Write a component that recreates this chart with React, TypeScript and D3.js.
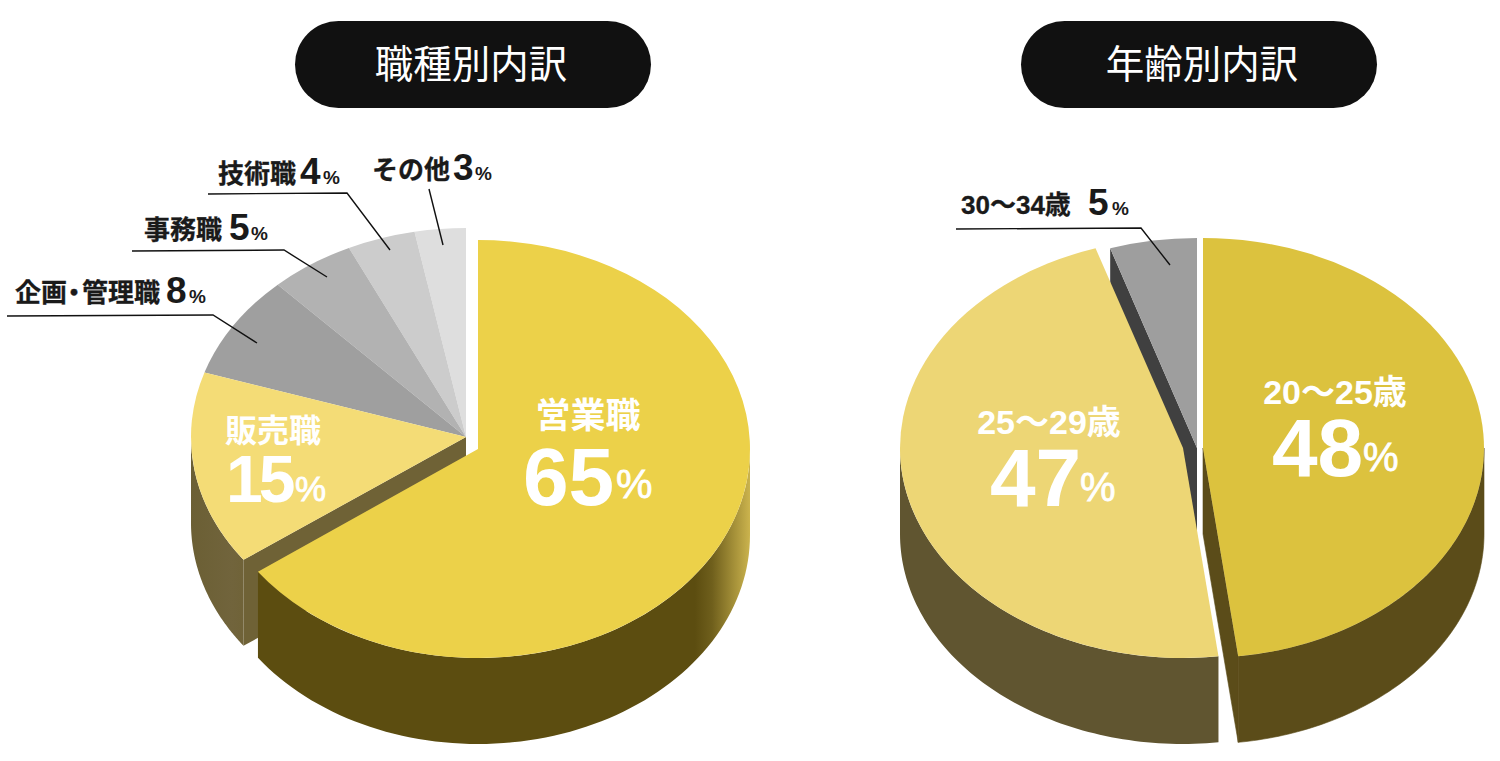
import React from "react";
import * as d3 from "d3";

const jobCategories = ["営業職", "販売職", "企画・管理職", "事務職", "技術職", "その他"];
const jobValues = [65, 15, 8, 5, 4, 3];
const ageCategories = ["20〜25歳", "25〜29歳", "30〜34歳"];
const ageValues = [48, 47, 5];
const titles = ["職種別内訳", "年齢別内訳"];

const JP = "'Noto Sans CJK JP','Noto Sans',sans-serif";
const LAT = "'Liberation Sans',Arial,sans-serif";
const DEPTH = 86;

type Geo = { cx: number; cy: number; rx: number; ry: number; top: string; wall?: string; cut?: string };

const jobGeo: Geo[] = [
  { cx: 478, cy: 449, rx: 272, ry: 209, top: "#ecd149", wall: "url(#wallA)" },
  { cx: 466, cy: 437, rx: 275, ry: 209, top: "#f4dc76", wall: "url(#wallB)", cut: "#6f6236" },
  { cx: 466, cy: 437, rx: 275, ry: 209, top: "#9f9f9f" },
  { cx: 466, cy: 437, rx: 275, ry: 209, top: "#b2b2b2" },
  { cx: 466, cy: 437, rx: 275, ry: 209, top: "#cccccc" },
  { cx: 466, cy: 437, rx: 275, ry: 209, top: "#dedede" },
];
const ageGeo: Geo[] = [
  { cx: 1203, cy: 448, rx: 281, ry: 210, top: "#dcc23e", wall: "#5b4c19", cut: "#5b4c19" },
  { cx: 1183, cy: 448, rx: 283, ry: 210, top: "#edd675", wall: "#605530" },
  { cx: 1197, cy: 448, rx: 281, ry: 210, top: "#9e9e9e", cut: "#404040" },
];

const pie = d3.pie<number>().sort(null).value((d) => d);
const px = (g: Geo, a: number) => g.cx + g.rx * Math.sin(a);
const py = (g: Geo, a: number) => g.cy - g.ry * Math.cos(a);

function wallPath(g: Geo, a0: number, a1: number) {
  const from = Math.max(a0, Math.PI / 2);
  const to = Math.min(a1, (3 * Math.PI) / 2);
  if (to <= from) return null;
  const angle = d3.scaleLinear().domain([0, 80]).range([from, to]);
  const steps = d3.range(81).map(angle);
  const line = d3.line<number[]>();
  const pts = [
    ...steps.map((a) => [px(g, a), py(g, a)]),
    ...steps.slice().reverse().map((a) => [px(g, a), py(g, a) + DEPTH]),
  ];
  return line(pts) + "Z";
}

function cutPath(g: Geo, a: number) {
  const x = px(g, a);
  const y = py(g, a);
  return d3.line()([
    [g.cx, g.cy],
    [x, y],
    [x, y + DEPTH],
    [g.cx, g.cy + DEPTH],
  ]) + "Z";
}

function Pie({ values, geo, cutAngle, order }: { values: number[]; geo: Geo[]; cutAngle: number[]; order: number[] }) {
  const arcs = pie(values);
  return (
    <g>
      {order.map((i) => {
        const g = geo[i];
        const ar = arcs[i];
        const w = g.wall ? wallPath(g, ar.startAngle, ar.endAngle) : null;
        const solid = g.wall && g.wall === g.cut;
        return (
          <g key={i}>
            {g.cut ? (
              <path d={cutPath(g, cutAngle[i] === 0 ? ar.startAngle : ar.endAngle)} fill={g.cut} stroke={solid ? g.cut : "none"} strokeWidth={0.6} />
            ) : null}
            {w ? <path d={w} fill={g.wall} stroke={solid ? g.cut : "none"} strokeWidth={0.6} /> : null}
          </g>
        );
      })}
      {order.map((i) => {
        const g = geo[i];
        const arc = d3.arc<any>().innerRadius(0).outerRadius(g.rx);
        return (
          <path
            key={i}
            d={arc(arcs[i]) as string}
            fill={g.top}
            transform={`translate(${g.cx},${g.cy}) scale(1,${g.ry / g.rx})`}
          />
        );
      })}
    </g>
  );
}

// digits of a label are set in the Latin face, the rest in the Japanese one
function Mixed({ label }: { label: string }) {
  return (
    <>
      {label.split(/(\d+)/).filter(Boolean).map((part, i) => (
        <tspan key={i} fontFamily={/\d/.test(part) ? LAT : JP}>{part}</tspan>
      ))}
    </>
  );
}

function Big({ label, value, cx, ly, lsize, x, y, size, pctX, psize, pctDy, ls = 0 }: any) {
  return (
    <g fill="#fff">
      <text x={cx} y={ly} textAnchor="middle" fontWeight={700} fontSize={lsize}>
        <Mixed label={label} />
      </text>
      <text x={x} y={y} fontFamily={LAT} fontWeight={700} fontSize={size} letterSpacing={ls}>{value}</text>
      <text x={pctX} y={y - pctDy} fontFamily={LAT} fontWeight={400} fontSize={psize} stroke="#fff" strokeWidth={0.8}>%</text>
    </g>
  );
}

function Small({ label, value, lx, y, nx, pctx, pts }: any) {
  const dot = label.indexOf("・");
  return (
    <g fill="#1a1a1a">
      <text x={lx} y={y - 1} fontWeight={700} fontSize={26} fontFamily={JP} stroke="#1a1a1a" strokeWidth={0.3}>
        {dot >= 0 ? (
          <>
            {label.slice(0, dot)}
            <tspan dx={-6}>・</tspan>
            <tspan dx={-5}>{label.slice(dot + 1)}</tspan>
          </>
        ) : (
          <Mixed label={label} />
        )}
      </text>
      <text x={nx} y={y} fontFamily={LAT} fontWeight={700} fontSize={37}>{value}</text>
      <text x={pctx} y={y} fontFamily={LAT} fontWeight={700} fontSize={19}>%</text>
      <path d={d3.line()(pts) as string} fill="none" stroke="#111" strokeWidth={1.4} />
    </g>
  );
}

function Title({ text, x, tx }: { text: string; x: number; tx: number }) {
  return (
    <g>
      <rect x={x} y={21} width={356} height={87} rx={43.5} fill="#111111" />
      <text x={tx} y={78} textAnchor="middle" fill="#fff" fontFamily={JP} fontWeight={400} fontSize={38.5}>{text}</text>
    </g>
  );
}

export default function App() {
  return (
    <svg width={1500} height={761} viewBox="0 0 1500 761" style={{ position: "absolute", left: 0, top: 0, background: "#fff" }}>
      <defs>
        <linearGradient id="wallA" gradientUnits="userSpaceOnUse" x1={695} x2={752} y1={0} y2={0}>
          <stop offset="0" stopColor="#5c4d10" />
          <stop offset="0.3" stopColor="#6f5f1c" />
          <stop offset="1" stopColor="#d0b850" />
        </linearGradient>
        <linearGradient id="wallB" gradientUnits="userSpaceOnUse" x1={190} x2={250} y1={0} y2={0}>
          <stop offset="0" stopColor="#6b5f34" />
          <stop offset="0.7" stopColor="#71643c" />
          <stop offset="1" stopColor="#6f6236" />
        </linearGradient>
      </defs>

      <Title text={titles[0]} x={295} tx={471} />
      <Title text={titles[1]} x={1021} tx={1202} />

      <Pie values={jobValues} geo={jobGeo} cutAngle={[1, 0, 0, 0, 0, 0]} order={[5, 4, 3, 2, 1, 0]} />
      <Pie values={ageValues} geo={ageGeo} cutAngle={[1, 0, 0]} order={[2, 1, 0]} />

      <Big label={jobCategories[0]} value={jobValues[0]} cx={588} ly={428} lsize={35} x={523} y={505} size={82} pctX={616} psize={41} pctDy={7} />
      <Big label={jobCategories[1]} value={jobValues[1]} cx={273} ly={442} lsize={32} x={226} y={502} size={66} pctX={295} psize={35} pctDy={1} ls={-4} />
      <Big label={ageCategories[0]} value={ageValues[0]} cx={1335} ly={404} lsize={34} x={1272} y={476} size={82} pctX={1363} psize={40} pctDy={5} />
      <Big label={ageCategories[1]} value={ageValues[1]} cx={1049} ly={434} lsize={34} x={990} y={506} size={82} pctX={1080} psize={40} pctDy={5} />

      <Small label={jobCategories[4]} value={jobValues[4]} lx={218} y={184} nx={300} pctx={323} pts={[[208, 194], [347, 193], [390, 250]]} />
      <Small label={jobCategories[5]} value={jobValues[5]} lx={372} y={180} nx={453} pctx={475} pts={[[429, 189], [443, 245]]} />
      <Small label={jobCategories[3]} value={jobValues[3]} lx={144} y={240} nx={229} pctx={251} pts={[[132, 251], [284, 250], [327, 277]]} />
      <Small label={jobCategories[2]} value={jobValues[2]} lx={15} y={303} nx={166} pctx={189} pts={[[7, 316], [213, 315], [257, 343]]} />
      <Small label={ageCategories[2]} value={ageValues[2]} lx={961} y={215} nx={1088} pctx={1112} pts={[[956, 229], [1141, 228], [1170, 265]]} />
    </svg>
  );
}
